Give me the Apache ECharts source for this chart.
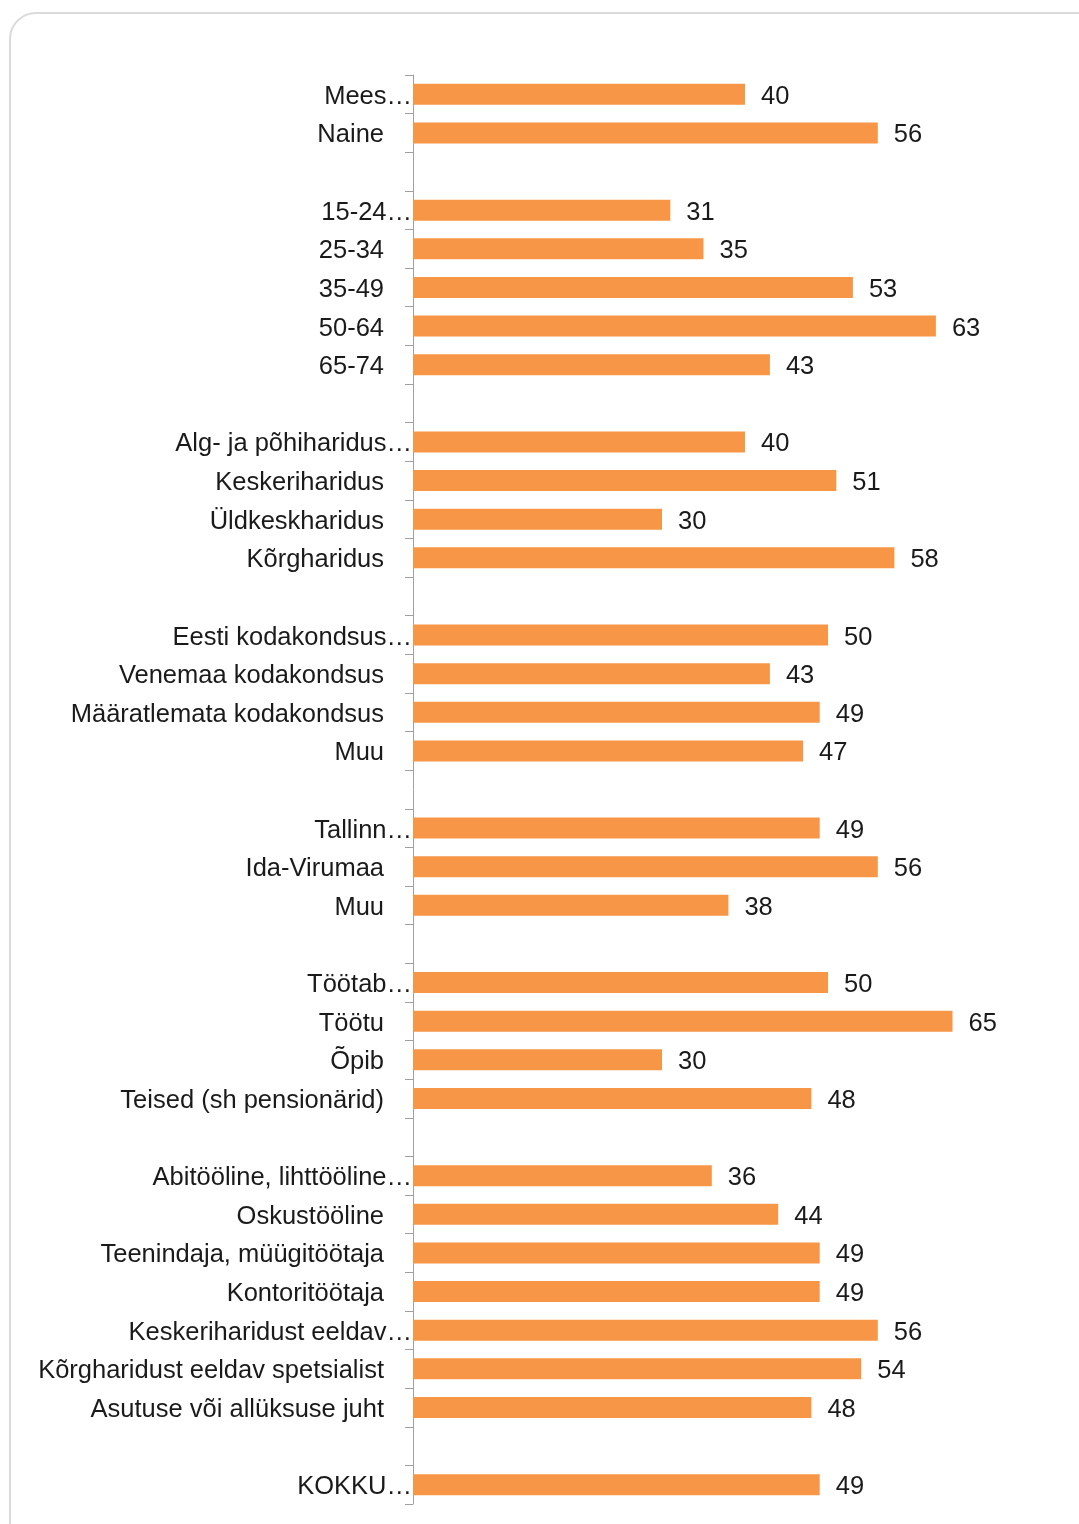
<!DOCTYPE html>
<html>
<head>
<meta charset="utf-8">
<script src="https://cdn.jsdelivr.net/npm/echarts@6/dist/echarts.min.js"></script>
<style>
  html, body { margin: 0; padding: 0; background: #fff; }
  #chart { width: 1079px; height: 1524px; }
</style>
</head>
<body>
<div id="chart"></div>
<script>
// Row labels, top to bottom; empty strings are spacer rows between groups.
const categories = [
  'Mees…', 'Naine', '',
  '15-24…', '25-34', '35-49', '50-64', '65-74', '',
  'Alg- ja põhiharidus…', 'Keskeriharidus', 'Üldkeskharidus', 'Kõrgharidus', '',
  'Eesti kodakondsus…', 'Venemaa kodakondsus', 'Määratlemata kodakondsus', 'Muu', '',
  'Tallinn…', 'Ida-Virumaa', 'Muu', '',
  'Töötab…', 'Töötu', 'Õpib', 'Teised (sh pensionärid)', '',
  'Abitööline, lihttööline…', 'Oskustööline', 'Teenindaja, müügitöötaja', 'Kontoritöötaja',
  'Keskeriharidust eeldav…', 'Kõrgharidust eeldav spetsialist', 'Asutuse või allüksuse juht', '',
  'KOKKU…'
];

// Percentages per row (null on spacer rows).
const values = [
  40, 56, null,
  31, 35, 53, 63, 43, null,
  40, 51, 30, 58, null,
  50, 43, 49, 47, null,
  49, 56, 38, null,
  50, 65, 30, 48, null,
  36, 44, 49, 49, 56, 54, 48, null,
  49
];

const FONT = "'Liberation Sans', Arial, sans-serif";
const TEXT = '#1a1a1a';
const SIZE = 25.5;

const chart = echarts.init(document.getElementById('chart'), null, { renderer: 'canvas' });

chart.setOption({
  backgroundColor: '#ffffff',
  animation: false,
  graphic: [{
    type: 'rect',
    z: -10,
    silent: true,
    shape: { x: 10, y: 13, width: 1100, height: 1560, r: 26 },
    style: { fill: '#ffffff', stroke: '#dadada', lineWidth: 2 }
  }],
  grid: {
    left: 413,
    top: 75,
    width: 581,
    height: 1429,
    containLabel: false,
    outerBoundsMode: 'none'
  },
  xAxis: {
    type: 'value',
    min: 0,
    max: 70,
    show: false,
    splitLine: { show: false }
  },
  yAxis: {
    type: 'category',
    inverse: true,
    data: categories,
    axisLine: { show: true, lineStyle: { color: '#a0a0a0', width: 1 } },
    axisTick: { show: true, interval: 0, length: 8, inside: false, lineStyle: { color: '#a0a0a0', width: 1 } },
    axisLabel: {
      interval: 0,
      margin: 1,
      fontFamily: FONT,
      fontSize: SIZE,
      color: TEXT,
      formatter: function (v) {
        if (!v) return '';
        return v.endsWith('…') ? '{t|' + v + '}' : '{n|' + v + '}';
      },
      rich: {
        n: { fontFamily: FONT, fontSize: SIZE, color: TEXT, padding: [5, 28, 0, 0] },
        t: { fontFamily: FONT, fontSize: SIZE, color: TEXT, padding: [5, 0, 0, 0] }
      }
    },
    splitLine: { show: false }
  },
  series: [{
    type: 'bar',
    data: values,
    barWidth: 21,
    itemStyle: { color: '#F79646' },
    label: {
      show: true,
      position: 'right',
      distance: 15,
      offset: [1, 2.5],
      fontFamily: FONT,
      fontSize: SIZE,
      color: TEXT,
      formatter: function (p) { return p.value == null ? '' : String(p.value); }
    }
  }]
});
</script>
</body>
</html>
